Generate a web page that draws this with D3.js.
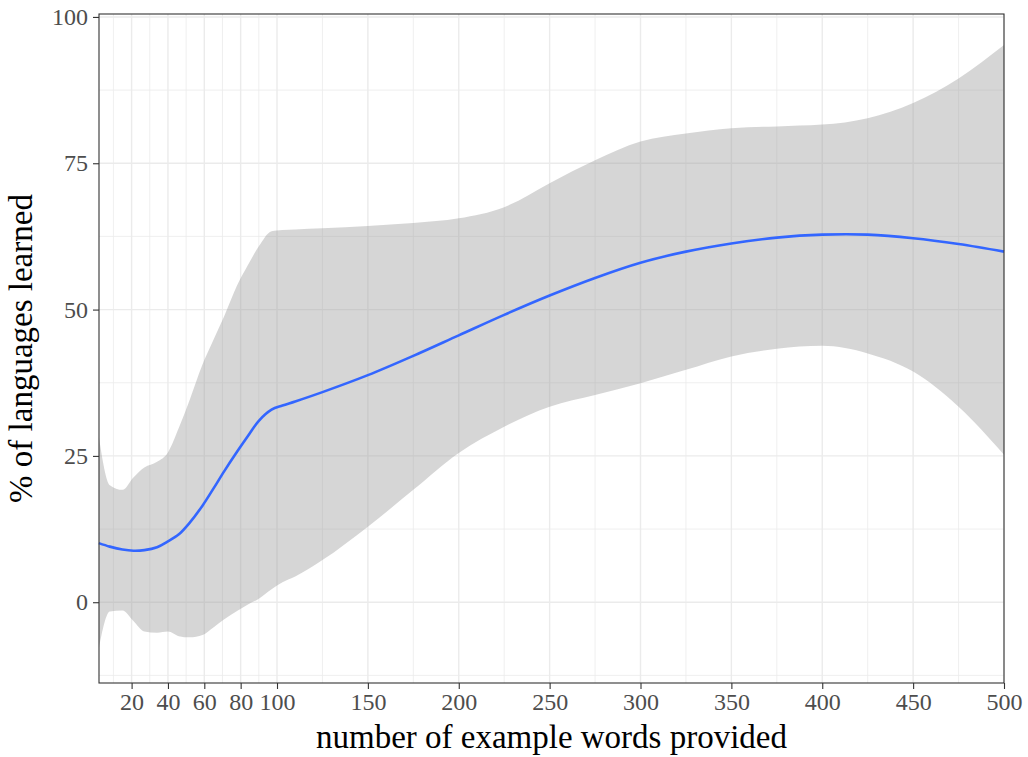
<!DOCTYPE html>
<html>
<head>
<meta charset="utf-8">
<script src="https://cdn.jsdelivr.net/npm/d3@7"></script>
<style>
  body { margin: 0; background: #fff; }
  svg text { font-family: "Palatino Linotype", Palatino, "Book Antiqua", "Liberation Serif", serif; }
</style>
</head>
<body>
<svg id="chart"></svg>
<script>
// x = number of example words, fit = smoother, upper/lower = confidence band
const words = [2, 8, 15, 21, 27, 34, 40, 46, 52, 59, 65, 71, 78, 84, 90, 97, 103, 110,
               125, 150, 175, 200, 225, 250, 275, 300, 325, 350, 375, 400, 425, 450, 475, 500];
const fit   = [10.1, 9.5, 9.0, 8.8, 8.9, 9.4, 10.4, 11.6, 13.6, 16.5, 19.4, 22.4, 25.7, 28.4, 31.0, 32.9, 33.6, 34.3,
               35.9, 38.8, 42.1, 45.6, 49.1, 52.4, 55.4, 58.0, 59.9, 61.3, 62.3, 62.8, 62.8, 62.2, 61.2, 59.9];
const upper = [28.2, 20.0, 19.2, 21.3, 23.0, 24.0, 25.6, 29.8, 34.6, 40.6, 44.8, 48.9, 54.1, 57.6, 60.8, 63.4, 63.6, 63.7,
               63.9, 64.3, 64.8, 65.6, 67.5, 71.6, 75.5, 78.7, 80.1, 81.0, 81.3, 81.6, 82.7, 85.3, 89.5, 95.2];
const lower = [-7.8, -1.6, -1.4, -3.2, -5.0, -5.2, -5.0, -5.8, -6.0, -5.6, -4.3, -2.9, -1.5, -0.4, 0.6, 2.2, 3.4, 4.4,
               7.2, 12.9, 19.2, 25.5, 30.0, 33.4, 35.4, 37.4, 39.7, 42.0, 43.3, 43.8, 42.5, 39.4, 33.4, 25.2];

const xTicks = [20, 40, 60, 80, 100, 150, 200, 250, 300, 350, 400, 450, 500];
const xMinor = [10, 30, 50, 70, 90, 125, 175, 225, 275, 325, 375, 425, 475];
const yTicks = [0, 25, 50, 75, 100];
const yMinor = [-12.5, 12.5, 37.5, 62.5, 87.5];

const width = 1028;
const height = 757;
const pLeft = 99, pRight = 1004, pTop = 14, pBottom = 683;

const svg = d3.select("#chart")
              .attr("width", width)
              .attr("height", height);

const x = d3.scaleLinear([2.06, 500], [pLeft, pRight]);
const y = d3.scaleLinear([-13.8, 100.5], [pBottom, pTop]);

const rows = words.map((w, i) => ({ w, fit: fit[i], hi: upper[i], lo: lower[i] }));

// grid
const grid = svg.append("g");
grid.selectAll("line.ymin").data(yMinor).join("line")
    .attr("x1", pLeft).attr("x2", pRight)
    .attr("y1", d => y(d)).attr("y2", d => y(d))
    .attr("stroke", "#ebebeb").attr("stroke-width", 0.8);
grid.selectAll("line.xmin").data(xMinor).join("line")
    .attr("y1", pTop).attr("y2", pBottom)
    .attr("x1", d => x(d)).attr("x2", d => x(d))
    .attr("stroke", "#ebebeb").attr("stroke-width", 0.8);
grid.selectAll("line.ymaj").data(yTicks).join("line")
    .attr("x1", pLeft).attr("x2", pRight)
    .attr("y1", d => y(d)).attr("y2", d => y(d))
    .attr("stroke", "#ebebeb").attr("stroke-width", 1.4);
grid.selectAll("line.xmaj").data(xTicks).join("line")
    .attr("y1", pTop).attr("y2", pBottom)
    .attr("x1", d => x(d)).attr("x2", d => x(d))
    .attr("stroke", "#ebebeb").attr("stroke-width", 1.4);

// ribbon + smoother
const band = d3.area()
               .x(d => x(d.w))
               .y0(d => y(d.lo))
               .y1(d => y(d.hi))
               .curve(d3.curveMonotoneX);
svg.append("path")
   .datum(rows)
   .attr("d", band)
   .attr("fill", "#999999")
   .attr("fill-opacity", 0.4);

const line = d3.line()
               .x(d => x(d.w))
               .y(d => y(d.fit))
               .curve(d3.curveCatmullRom);
svg.append("path")
   .datum(rows)
   .attr("d", line)
   .attr("fill", "none")
   .attr("stroke", "#3366FF")
   .attr("stroke-width", 2.6);

// panel border
svg.append("rect")
   .attr("x", pLeft).attr("y", pTop)
   .attr("width", pRight - pLeft).attr("height", pBottom - pTop)
   .attr("fill", "none")
   .attr("stroke", "#333333")
   .attr("stroke-width", 1.1);

// axes
const xAxis = d3.axisBottom(x).tickValues(xTicks).tickSize(6).tickPadding(4);
const yAxis = d3.axisLeft(y).tickValues(yTicks).tickSize(6).tickPadding(5);

svg.append("g")
   .attr("transform", `translate(0, ${pBottom})`)
   .call(xAxis)
   .call(g => g.select(".domain").remove())
   .call(g => g.selectAll(".tick line").attr("stroke", "#333333").attr("stroke-width", 1.1))
   .call(g => g.selectAll(".tick text")
               .attr("fill", "#4d4d4d")
               .attr("font-size", 24)
               .attr("font-family", null));

svg.append("g")
   .attr("transform", `translate(${pLeft}, 0)`)
   .call(yAxis)
   .call(g => g.select(".domain").remove())
   .call(g => g.selectAll(".tick line").attr("stroke", "#333333").attr("stroke-width", 1.1))
   .call(g => g.selectAll(".tick text")
               .attr("fill", "#4d4d4d")
               .attr("font-size", 24)
               .attr("font-family", null));

// titles
svg.append("text")
   .attr("x", (pLeft + pRight) / 2)
   .attr("y", 748)
   .attr("text-anchor", "middle")
   .attr("font-size", 33)
   .attr("fill", "#000")
   .text("number of example words provided");

svg.append("text")
   .attr("transform", `translate(32, ${(pTop + pBottom) / 2}) rotate(-90)`)
   .attr("text-anchor", "middle")
   .attr("font-size", 33)
   .attr("fill", "#000")
   .text("% of languages learned");
</script>
</body>
</html>
